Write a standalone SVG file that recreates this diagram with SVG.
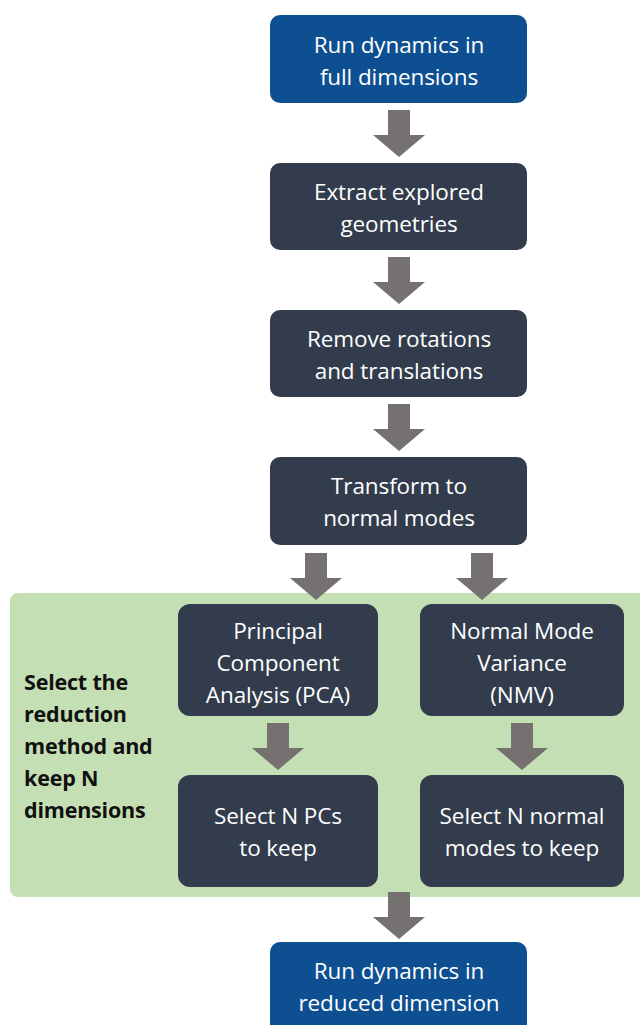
<svg xmlns="http://www.w3.org/2000/svg" width="640" height="1025" viewBox="0 0 640 1025">
<style>
.blue{fill:#0e4f91}
.dark{fill:#323c4c}
.arr{fill:#757170}
.t{font-family:"Open Sans","Liberation Sans",sans-serif;font-size:22.5px;fill:#ffffff;text-anchor:middle;letter-spacing:-0.1px}
.lbl{font-family:"Open Sans","Liberation Sans",sans-serif;font-size:21.5px;font-weight:bold;fill:#111;letter-spacing:-0.2px}
</style>
<defs>
<path id="ar" d="M-11,0 H11 V25 H26 L0,47 L-26,25 H-11 Z"/>
</defs>
<rect x="10" y="593" width="640" height="304" rx="8" fill="#c5dfb4"/>
<text class="lbl" x="24" y="690">Select the</text>
<text class="lbl" x="24" y="722">reduction</text>
<text class="lbl" x="24" y="754">method and</text>
<text class="lbl" x="24" y="786">keep N</text>
<text class="lbl" x="24" y="818">dimensions</text>
<g id="connectors">
<use href="#ar" class="arr" x="399" y="110"/>
<use href="#ar" class="arr" x="399" y="257"/>
<use href="#ar" class="arr" x="399" y="404"/>
<use href="#ar" class="arr" x="316" y="553"/>
<use href="#ar" class="arr" x="482" y="553"/>
<use href="#ar" class="arr" x="278" y="723"/>
<use href="#ar" class="arr" x="522" y="723"/>
<use href="#ar" class="arr" x="399" y="892"/>
</g>
<g id="n1"><rect class="blue" x="270" y="15" width="257" height="88" rx="10"/>
<text class="t" x="399" y="53">Run dynamics in</text><text class="t" x="399" y="85">full dimensions</text></g>
<g id="n2"><rect class="dark" x="270" y="163" width="257" height="87" rx="10"/>
<text class="t" x="399" y="200">Extract explored</text><text class="t" x="399" y="232">geometries</text></g>
<g id="n3"><rect class="dark" x="270" y="310" width="257" height="87" rx="10"/>
<text class="t" x="399" y="347">Remove rotations</text><text class="t" x="399" y="379">and translations</text></g>
<g id="n4"><rect class="dark" x="270" y="457" width="257" height="88" rx="10"/>
<text class="t" x="399" y="494">Transform to</text><text class="t" x="399" y="526">normal modes</text></g>
<g id="n5"><rect class="dark" x="178" y="604" width="200" height="112" rx="12"/>
<text class="t" x="278" y="639">Principal</text><text class="t" x="278" y="671">Component</text><text class="t" x="278" y="703">Analysis (PCA)</text></g>
<g id="n6"><rect class="dark" x="420" y="604" width="204" height="112" rx="12"/>
<text class="t" x="522" y="639">Normal Mode</text><text class="t" x="522" y="671">Variance</text><text class="t" x="522" y="703">(NMV)</text></g>
<g id="n7"><rect class="dark" x="178" y="775" width="200" height="112" rx="12"/>
<text class="t" x="278" y="824">Select N PCs</text><text class="t" x="278" y="856">to keep</text></g>
<g id="n8"><rect class="dark" x="420" y="775" width="204" height="112" rx="12"/>
<text class="t" x="522" y="824">Select N normal</text><text class="t" x="522" y="856">modes to keep</text></g>
<g id="n9"><rect class="blue" x="270" y="942" width="257" height="95" rx="10"/>
<text class="t" x="399" y="979">Run dynamics in</text><text class="t" x="399" y="1011">reduced dimension</text></g>
</svg>
